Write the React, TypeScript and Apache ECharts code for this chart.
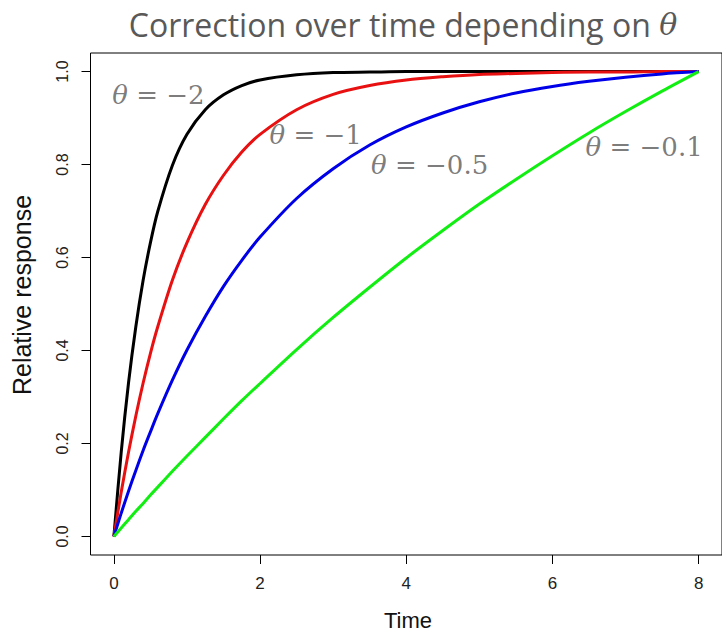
import React, { useEffect, useRef } from "react";
import * as echarts from "echarts";

const timePoints = [0, 0.1, 0.2, 0.3, 0.4, 0.5, 0.6, 0.8, 1, 1.25, 1.5, 1.75, 2, 2.5, 3, 3.5, 4, 4.5, 5, 5.5, 6, 6.5, 7, 7.5, 8];
const thetaM2 = [0, 0.181, 0.330, 0.451, 0.551, 0.632, 0.699, 0.798, 0.865, 0.918, 0.950, 0.970, 0.982, 0.993, 0.998, 0.999, 1, 1, 1, 1, 1, 1, 1, 1, 1];
const thetaM1 = [0, 0.095, 0.181, 0.259, 0.330, 0.394, 0.451, 0.551, 0.632, 0.714, 0.777, 0.827, 0.865, 0.918, 0.951, 0.970, 0.982, 0.989, 0.994, 0.996, 0.998, 0.999, 0.999, 1, 1];
const thetaM05 = [0, 0.050, 0.097, 0.142, 0.185, 0.225, 0.264, 0.336, 0.401, 0.473, 0.538, 0.594, 0.644, 0.727, 0.791, 0.842, 0.881, 0.911, 0.935, 0.954, 0.968, 0.979, 0.988, 0.995, 1];
const thetaM01 = [0, 0.018, 0.036, 0.054, 0.071, 0.089, 0.106, 0.140, 0.173, 0.213, 0.253, 0.292, 0.329, 0.402, 0.471, 0.536, 0.599, 0.658, 0.715, 0.768, 0.819, 0.868, 0.914, 0.958, 1];

const xTicks = [0, 2, 4, 6, 8];
const yTicks = [0, 0.2, 0.4, 0.6, 0.8, 1.0];

const labelTexts = ["= −2", "= −1", "= −0.5", "= −0.1"];
const labelAnchors = [
  [0.61, 0.95],
  [2.76, 0.864],
  [4.32, 0.799],
  [7.255, 0.838],
];

const seriesDefs = [
  { name: "θ = −2", values: thetaM2, color: "#000000" },
  { name: "θ = −1", values: thetaM1, color: "#e81010" },
  { name: "θ = −0.5", values: thetaM05, color: "#0000e8" },
  { name: "θ = −0.1", values: thetaM01, color: "#11ee11" },
];

export default function App() {
  const ref = useRef<HTMLDivElement>(null);
  useEffect(() => {
    const chart = echarts.init(ref.current!, null, { renderer: "svg" });
    const gray = "#595959";
    const option: any = {
      animation: false,
      backgroundColor: "#ffffff",
      grid: {
        show: true,
        left: 90.5,
        top: 53,
        width: 636,
        height: 502,
        borderColor: "#000",
        borderWidth: 1,
        backgroundColor: "transparent",
      },
      xAxis: {
        type: "value",
        min: -0.32,
        max: 8.32,
        axisLine: { show: false, onZero: false },
        splitLine: { show: false },
        axisTick: { show: true, length: 9, lineStyle: { color: "#000" }, customValues: xTicks },
        axisLabel: {
          customValues: xTicks,
          margin: 20,
          fontSize: 17,
          color: "#222",
          fontFamily: "Liberation Sans",
          formatter: (v: number) => String(Math.round(v)),
        },
      },
      yAxis: {
        type: "value",
        min: -0.04,
        max: 1.04,
        axisLine: { show: false, onZero: false },
        splitLine: { show: false },
        axisTick: { show: true, length: 9, lineStyle: { color: "#000" }, customValues: yTicks },
        axisLabel: {
          customValues: yTicks,
          rotate: 90,
          margin: 20,
          fontSize: 16,
          color: "#222",
          fontFamily: "Liberation Sans",
          formatter: (v: number) => v.toFixed(1),
        },
      },
      series: [
        ...seriesDefs.map((s) => ({
          type: "line",
          name: s.name,
          data: timePoints.map((t, i) => [t, s.values[i]]),
          smooth: 0.3,
          showSymbol: false,
          symbol: "none",
          lineStyle: { color: s.color, width: 3 },
          itemStyle: { color: s.color },
          silent: true,
        })),
        {
          type: "scatter",
          symbolSize: 0,
          silent: true,
          data: labelAnchors.map((p) => ({ value: p })),
          label: {
            show: true,
            position: "inside",
            formatter: (p: any) => "{t|θ}{r| " + labelTexts[p.dataIndex] + "}",
            rich: {
              t: { fontFamily: "DejaVu Serif", fontStyle: "italic", fontSize: 26, color: gray },
              r: { fontFamily: "DejaVu Serif", fontSize: 26, color: gray },
            },
          },
          z: 10,
        },
      ],
      graphic: [
        {
          type: "text",
          x: 403,
          y: 24,
          style: {
            text: "{a|Correction over time depending on }{t|θ}",
            align: "center",
            verticalAlign: "middle",
            rich: {
              a: { fontFamily: "Open Sans", fontSize: 32, fill: gray, color: gray },
              t: { fontFamily: "DejaVu Serif", fontStyle: "italic", fontSize: 30, fill: gray, color: gray },
            },
          },
        },
        {
          type: "text",
          x: 408,
          y: 620,
          style: {
            text: "Time",
            fontFamily: "Liberation Sans",
            fontSize: 22,
            fill: "#111",
            align: "center",
            verticalAlign: "middle",
          },
        },
        {
          type: "text",
          x: 22,
          y: 295,
          rotation: Math.PI / 2,
          style: {
            text: "Relative response",
            fontFamily: "Liberation Sans",
            fontSize: 25,
            fill: "#111",
            align: "center",
            verticalAlign: "middle",
          },
        },
      ],
    };
    chart.setOption(option);
    return () => chart.dispose();
  }, []);
  return (
    <div
      ref={ref}
      style={{ position: "fixed", left: 0, top: 0, width: 722, height: 634 }}
    />
  );
}
